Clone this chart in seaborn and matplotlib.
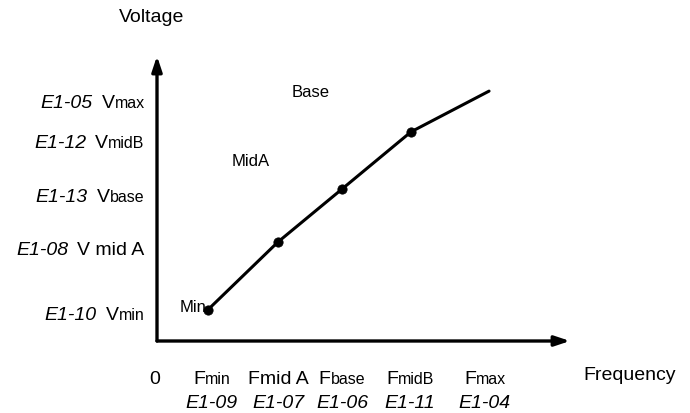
import matplotlib
matplotlib.use("Agg")
import matplotlib.pyplot as plt
import matplotlib.transforms as mtransforms
import pandas as pd
import seaborn as sns

# V/f pattern points (frequency, voltage) in arbitrary units 0..100
freq = [12.3, 29.3, 44.8, 61.5, 80.4]
volt = [11.0, 35.0, 53.7, 73.9, 88.3]
point_names = ["Min", "MidA", "Base", "MidB", "Max"]

# axis labels: (parameter, main letter, small suffix)
y_params = ["E1-05", "E1-12", "E1-13", "E1-08", "E1-10"]
y_names = [("V", "max"), ("V", "midB"), ("V", "base"), ("V mid A", ""), ("V", "min")]
y_label_pos = [82.3, 68.2, 49.1, 30.4, 7.4]

x_params = ["E1-09", "E1-07", "E1-06", "E1-11", "E1-04"]
x_names = [("F", "min"), ("Fmid A", ""), ("F", "base"), ("F", "midB"), ("F", "max")]
x_label_pos = [13.3, 29.3, 44.8, 61.3, 79.4]

df = pd.DataFrame({"freq": freq, "volt": volt, "name": point_names})

sns.set_style("white")
plt.rcParams["font.family"] = ["Liberation Sans", "DejaVu Sans"]
plt.rcParams["text.color"] = "black"

fig = plt.figure(figsize=(6.9, 4.13), dpi=100)
ax = fig.add_axes([157 / 690, 72 / 413, 413 / 690, 283 / 413])
ax.set_xlim(0, 100)
ax.set_ylim(0, 100)
ax.axis("off")

sns.lineplot(data=df, x="freq", y="volt", color="black", linewidth=2.2, ax=ax)
sns.scatterplot(data=df.iloc[:4], x="freq", y="volt", color="black", s=45,
                edgecolor="black", zorder=3, ax=ax)

arrow = dict(arrowstyle="-|>,head_length=0.9,head_width=0.3", lw=2.4, color="black",
             shrinkA=0, shrinkB=0)
ax.annotate("", xy=(100, 0), xytext=(0, 0), arrowprops=arrow, annotation_clip=False)
ax.annotate("", xy=(0, 100.7), xytext=(0, 0), arrowprops=arrow, annotation_clip=False)

renderer = fig.canvas.get_renderer()
BIG, SMALL = 14, 11.5


def rich_text(x, y, parts, ha="left"):
    texts, widths = [], []
    for s, fs, st, gap in parts:
        t = ax.text(x, y, s, fontsize=fs, style=st, ha="left", va="baseline", clip_on=False)
        texts.append(t)
        widths.append(t.get_window_extent(renderer).width + gap)
    total = sum(widths)
    off = {"left": 0, "center": -total / 2, "right": -total}[ha]
    for t, w in zip(texts, widths):
        t.set_transform(ax.transData + mtransforms.ScaledTranslation(off / fig.dpi, 0, fig.dpi_scale_trans))
        off += w


for p, (main, sub), y in zip(y_params, y_names, y_label_pos):
    rich_text(-3.0, y, [(p, BIG, "italic", 9), (main, BIG, "normal", 0), (sub, SMALL, "normal", 0)], ha="right")

for p, (main, sub), x in zip(x_params, x_names, x_label_pos):
    rich_text(x, -15.2, [(main, BIG, "normal", 0), (sub, SMALL, "normal", 0)], ha="center")
    ax.text(x, -23.7, p, fontsize=BIG, style="italic", ha="center", va="baseline", clip_on=False)

ax.text(-0.5, -15.2, "0", fontsize=BIG, ha="center", va="baseline", clip_on=False)
ax.text(114.5, -13.8, "Frequency", fontsize=BIG, ha="center", va="baseline", clip_on=False)
ax.text(-1.2, 112.7, "Voltage", fontsize=BIG, ha="center", va="baseline", clip_on=False)

ax.text(37.3, 86.2, "Base", fontsize=12, ha="center", va="baseline")
ax.text(22.8, 61.8, "MidA", fontsize=12, ha="center", va="baseline")
ax.text(12.1, 10.2, "Min", fontsize=12, ha="right", va="baseline")

fig.savefig("out.png", dpi=100)
